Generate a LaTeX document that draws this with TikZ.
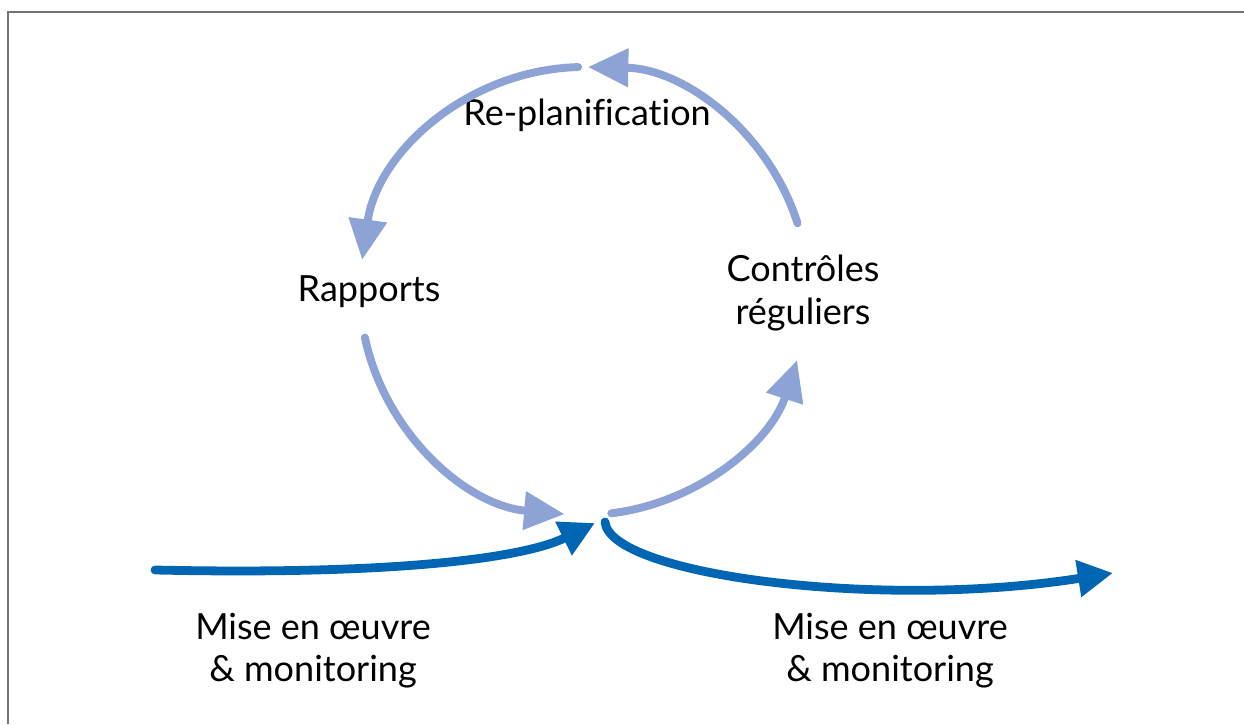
\documentclass[tikz,border=0pt]{standalone}
\usepackage{fontspec}
\setmainfont{Lato}[Ligatures=NoCommon]
\usetikzlibrary{arrows.meta}
\definecolor{paleblue}{RGB}{141,162,213}
\definecolor{deepblue}{RGB}{0,102,179}
\tikzstyle{cycle} = [paleblue, line width=4.5pt, line cap=round, -{Triangle[length=23pt,width=21pt]}]
\tikzstyle{flow} = [deepblue, line width=5pt, line cap=round, -{Triangle[length=20pt,width=20pt]}]
\tikzstyle{lbl} = [font=\fontsize{20.5}{24}\selectfont, align=center, inner sep=0pt]

\begin{document}
\begin{tikzpicture}[x=0.02cm, y=0.02cm]
      \useasboundingbox (0,0) rectangle (1244,724);
      % frame
      \draw[gray!90!black, line width=1.1pt] (8,0) -- (8,712) -- (1244,712);
      % labels
      \node[lbl] (replan) at (587,609) {Re-planification};
      \node[lbl] (rapports) at (369,432) {Rapports};
      \node[lbl] (controles) at (803,431) {Contrôles\\réguliers};
      \node[lbl] (meo1) at (313,73) {Mise en œuvre\\\& monitoring};
      \node[lbl] (meo2) at (890,73) {Mise en œuvre\\\& monitoring};
      % cycle
      \coordinate (c) at (584,433);
      \path (c) ++(91.5:224) coordinate (top);
      \path (c) ++(17.6:224) coordinate (right);
      \path (c) ++(192:224) coordinate (left);
      \path (c) ++(277:224) coordinate (bottom);
      \draw[cycle] (top) arc[start angle=91.5, end angle=172, radius=224];
      \draw[cycle] (right) arc[start angle=17.6, end angle=89, radius=224];
      \draw[cycle] (left) arc[start angle=192, end angle=265, radius=224];
      \draw[cycle] (bottom) arc[start angle=277, end angle=342, radius=224];
      % flow in and out
      \coordinate (in) at (155,154);
      \coordinate (mid1) at (595,201);
      \coordinate (mid2) at (605,202);
      \coordinate (out) at (1113,151);
      \draw[flow] (in) .. controls (380,149) and (520,164) .. (mid1);
      \draw[flow] (mid2) .. controls (610,149) and (880,114) .. (out);
\end{tikzpicture}
\end{document}
